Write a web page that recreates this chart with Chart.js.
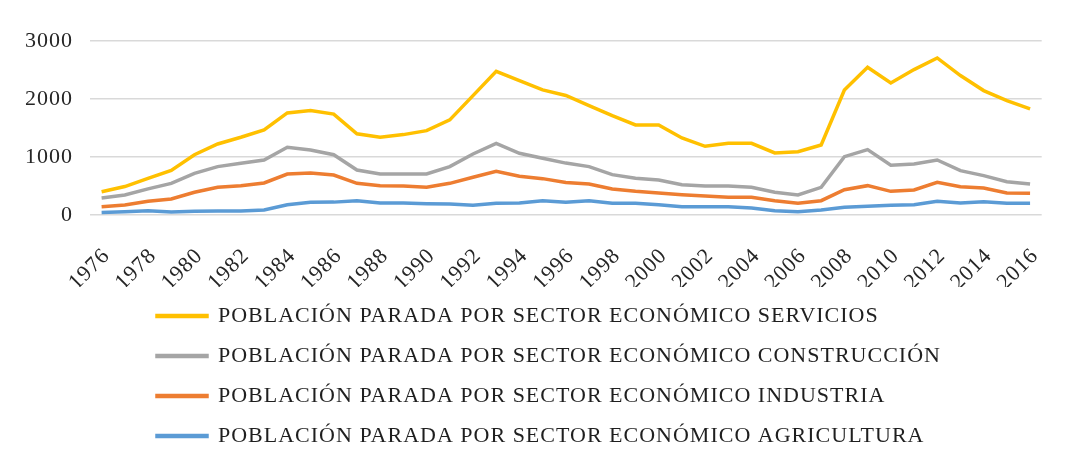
<!DOCTYPE html>
<html>
<head>
<meta charset="utf-8">
<script src="https://cdn.jsdelivr.net/npm/chart.js@4.4.1/dist/chart.umd.min.js"></script>
<style>
  html, body { margin: 0; padding: 0; background: #ffffff; }
  #wrap { position: relative; width: 1069px; height: 459px; }
</style>
</head>
<body>
<div id="wrap"><canvas id="c"></canvas></div>
<script>
const years = ['1976','1977','1978','1979','1980','1981','1982','1983','1984','1985','1986','1987','1988','1989','1990','1991','1992','1993','1994','1995','1996','1997','1998','1999','2000','2001','2002','2003','2004','2005','2006','2007','2008','2009','2010','2011','2012','2013','2014','2015','2016'];

const servicios = [400, 490, 630, 770, 1040, 1225, 1340, 1466, 1760, 1800, 1740, 1400, 1340, 1386, 1455, 1640, 2058, 2478, 2317, 2156, 2060, 1886, 1713, 1552, 1552, 1328, 1184, 1236, 1236, 1070, 1092, 1208, 2156, 2547, 2277, 2507, 2708, 2404, 2145, 1972, 1829];
const construccion = [293, 345, 450, 546, 719, 834, 891, 949, 1167, 1121, 1040, 776, 707, 707, 707, 834, 1052, 1236, 1064, 977, 895, 834, 696, 632, 604, 523, 500, 500, 477, 391, 345, 477, 1006, 1127, 857, 880, 949, 765, 679, 575, 535];
const industria = [144, 172, 236, 276, 391, 477, 506, 552, 707, 724, 690, 546, 506, 500, 477, 546, 650, 753, 667, 627, 560, 535, 448, 408, 380, 351, 328, 305, 305, 247, 201, 247, 437, 506, 408, 431, 563, 489, 466, 380, 374];
const agricultura = [45, 58, 75, 50, 63, 69, 69, 86, 178, 218, 222, 247, 207, 207, 196, 190, 167, 201, 207, 247, 218, 247, 201, 201, 178, 144, 144, 144, 121, 75, 55, 86, 132, 150, 167, 178, 236, 207, 230, 201, 201];

const seriesNames = [
  'POBLACIÓN PARADA POR SECTOR ECONÓMICO SERVICIOS',
  'POBLACIÓN PARADA POR SECTOR ECONÓMICO CONSTRUCCIÓN',
  'POBLACIÓN PARADA POR SECTOR ECONÓMICO INDUSTRIA',
  'POBLACIÓN PARADA POR SECTOR ECONÓMICO AGRICULTURA'
];
const yTicks = [0, 500, 1000, 1500, 2000, 2500, 3000];

const colors = ['#FFC000', '#A5A5A5', '#ED7D31', '#5B9BD5'];
const FONT = "'Liberation Serif', 'Times New Roman', serif";
const LEGEND_X = 157;
const LETTER_SPACING = '1px';

function ds(label, data, color) {
  return {
    label: label,
    data: data,
    borderColor: color,
    backgroundColor: color,
    borderWidth: 3.5,
    pointRadius: 0,
    pointHoverRadius: 0,
    tension: 0,
    fill: false
  };
}

const textStretch = {
  id: 'textStretch',
  beforeUpdate(chart) { chart.ctx.letterSpacing = LETTER_SPACING; },
  beforeDraw(chart) { chart.ctx.letterSpacing = LETTER_SPACING; }
};

const legendShift = {
  id: 'legendShift',
  afterUpdate(chart) {
    const lg = chart.legend;
    if (lg) {
      const pad = lg.options.labels.padding;
      const w = lg.right - lg.left;
      lg.left = LEGEND_X - pad;
      lg.right = lg.left + w;
    }
  }
};

new Chart(document.getElementById('c'), {
  type: 'line',
  data: {
    labels: years,
    datasets: [
      ds(seriesNames[0], servicios, colors[0]),
      ds(seriesNames[1], construccion, colors[1]),
      ds(seriesNames[2], industria, colors[2]),
      ds(seriesNames[3], agricultura, colors[3])
    ]
  },
  options: {
    responsive: true,
    maintainAspectRatio: false,
    animation: false,
    layout: { padding: { top: 41, right: 21, bottom: 2, left: 0 } },
    plugins: {
      tooltip: { enabled: false },
      legend: {
        position: 'bottom',
        align: 'start',
        labels: {
          boxWidth: 50,
          boxHeight: 1,
          padding: 18,
          color: '#1f1f1f',
          font: { family: FONT, size: 22 }
        }
      }
    },
    scales: {
      x: {
        offset: true,
        grid: { display: false },
        border: { display: false },
        ticks: {
          autoSkip: false,
          minRotation: 45,
          maxRotation: 45,
          padding: 20,
          labelOffset: 5,
          color: '#262626',
          font: { family: FONT, size: 22 },
          callback: function(value, index) {
            return index % 2 === 0 ? years[index] : '';
          }
        },
        afterFit: function(scale) { scale.height = 72; }
      },
      y: {
        min: yTicks[0],
        max: yTicks[yTicks.length - 1],
        grid: { color: '#D9D9D9', lineWidth: 1.5, drawTicks: false },
        border: { display: false },
        ticks: {
          stepSize: 500,
          padding: 17,
          color: '#262626',
          font: { family: FONT, size: 22 },
          callback: function(value) { return String(value); }
        },
        afterFit: function(scale) { scale.width = 90; }
      }
    }
  },
  plugins: [textStretch, legendShift]
});
</script>
</body>
</html>
